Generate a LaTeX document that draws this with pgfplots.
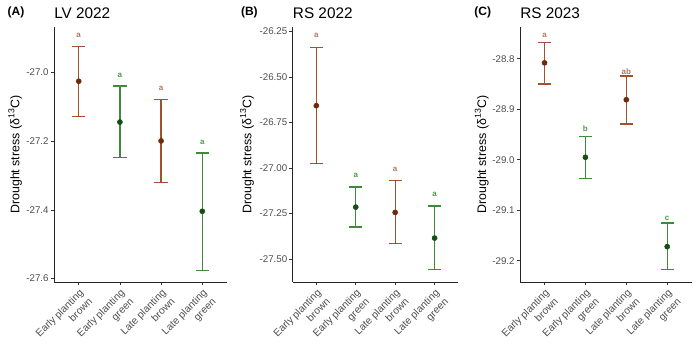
\documentclass[border=0pt]{standalone}
\usepackage{pgfplots}
\pgfplotsset{compat=1.18}
\usepackage{pgfplotstable}
\usepackage{fontspec}
\setmainfont{Liberation Sans}

\definecolor{bbar}{HTML}{A0522D}
\definecolor{bdot}{HTML}{6E2A0C}
\definecolor{gbar}{HTML}{3F8A3A}
\definecolor{gdot}{HTML}{124F12}
\definecolor{bletter}{HTML}{B07860}
\definecolor{gletter}{HTML}{4E9A48}
\definecolor{tickgray}{HTML}{4D4D4D}

% panel A
\pgfplotstableread{
x y ep em
1 -27.025 0.100 0.102
3 -27.199 0.121 0.121
}\Abrown
\pgfplotstableread{
x y ep em
2 -27.144 0.105 0.104
4 -27.404 0.170 0.172
}\Agreen
% panel B
\pgfplotstableread{
x y ep em
1 -26.658 0.320 0.319
3 -27.244 0.174 0.172
}\Bbrown
\pgfplotstableread{
x y ep em
2 -27.215 0.110 0.109
4 -27.385 0.176 0.173
}\Bgreen
% panel C
\pgfplotstableread{
x y ep em
1 -28.808 0.040 0.042
3 -28.881 0.047 0.048
}\Cbrown
\pgfplotstableread{
x y ep em
2 -28.995 0.041 0.042
4 -29.172 0.047 0.046
}\Cgreen

\tikzset{
  lb/.style={font=\fontsize{6}{6}\selectfont\bfseries, text=bletter, inner sep=0pt},
  lg/.style={font=\fontsize{6}{6}\selectfont\bfseries, text=gletter, inner sep=0pt},
}

\pgfplotsset{
  panel/.style={
    scale only axis,
    height=191.25pt,
    axis x line*=bottom,
    axis y line*=left,
    axis line style={line width=0.7pt, black!85},
    tick align=outside,
    major tick length=2.4pt,
    tick style={line width=0.6pt, black!80},
    xmin=0.4, xmax=4.6,
    xtick={1,2,3,4},
    xticklabels={{Early planting\\brown},{Early planting\\green},{Late planting\\brown},{Late planting\\green}},
    x tick label style={rotate=45, anchor=north east, align=right,
      font=\fontsize{7.7}{9.5}\selectfont, text=tickgray, inner sep=1.5pt},
    y tick label style={font=\fontsize{7.3}{8.6}\selectfont, text=tickgray, inner sep=1.5pt},
    /pgf/number format/assume math mode=true,
    ylabel={Drought stress (δ\textsuperscript{13}C)},
    ylabel style={font=\fontsize{9.3}{11}\selectfont, anchor=center},
    clip=false,
  },
  bro/.style={color=bbar, only marks, mark=*, mark size=1.9pt,
    mark options={fill=bdot, draw=bdot},
    error bars/.cd, y dir=both, y explicit,
    error bar style={color=bbar, line width=0.9pt},
    error mark options={color=bbar, mark size=5pt, line width=0.9pt, rotate=90}},
  gre/.style={color=gbar, only marks, mark=*, mark size=1.9pt,
    mark options={fill=gdot, draw=gdot},
    error bars/.cd, y dir=both, y explicit,
    error bar style={color=gbar, line width=0.9pt},
    error mark options={color=gbar, mark size=5pt, line width=0.9pt, rotate=90}},
}

\begin{document}
\begin{tikzpicture}
\useasboundingbox (0,0) rectangle (525pt,272.25pt);

% ---------- Panel A ----------
\begin{axis}[panel, at={(40.5pt,60.75pt)}, anchor=south west,
  width=129.75pt,
  ymin=-27.61, ymax=-26.867,
  ytick={-27.6,-27.4,-27.2,-27.0},
  yticklabel style={/pgf/number format/.cd, fixed, fixed zerofill, precision=1},
  ylabel style={at={(axis description cs:-0.225,0.5)}},
]
\addplot[bro] table[x=x, y=y, y error plus=ep, y error minus=em] {\Abrown};
\addplot[gre] table[x=x, y=y, y error plus=ep, y error minus=em] {\Agreen};
\node[lb] at (axis cs:1,-26.891) {a};
\node[lg] at (axis cs:2,-27.008) {a};
\node[lb] at (axis cs:3,-27.047) {a};
\node[lg] at (axis cs:4,-27.202) {a};
\end{axis}

% ---------- Panel B ----------
\begin{axis}[panel, at={(219.5pt,60.75pt)}, anchor=south west,
  width=124.2pt,
  ymin=-27.626, ymax=-26.226,
  ytick={-27.5,-27.25,-27.0,-26.75,-26.5,-26.25},
  yticklabel style={/pgf/number format/.cd, fixed, fixed zerofill, precision=2},
  ylabel style={at={(axis description cs:-0.276,0.5)}},
]
\addplot[bro] table[x=x, y=y, y error plus=ep, y error minus=em] {\Bbrown};
\addplot[gre] table[x=x, y=y, y error plus=ep, y error minus=em] {\Bgreen};
\node[lb] at (axis cs:1,-26.272) {a};
\node[lg] at (axis cs:2,-27.041) {a};
\node[lb] at (axis cs:3,-27.008) {a};
\node[lg] at (axis cs:4,-27.145) {a};
\end{axis}

% ---------- Panel C ----------
\begin{axis}[panel, at={(390pt,60.75pt)}, anchor=south west,
  width=128.8pt,
  ymin=-29.242, ymax=-28.737,
  ytick={-29.2,-29.1,-29.0,-28.9,-28.8},
  yticklabel style={/pgf/number format/.cd, fixed, fixed zerofill, precision=1},
  ylabel style={at={(axis description cs:-0.223,0.5)}},
]
\addplot[bro] table[x=x, y=y, y error plus=ep, y error minus=em] {\Cbrown};
\addplot[gre] table[x=x, y=y, y error plus=ep, y error minus=em] {\Cgreen};
\node[lb] at (axis cs:1,-28.753) {a};
\node[lg] at (axis cs:2,-28.939) {b};
\node[lb] at (axis cs:3,-28.826) {ab};
\node[lg] at (axis cs:4,-29.117) {c};
\end{axis}

% ---------- titles ----------
\node[font=\fontsize{9}{10}\selectfont\bfseries, inner sep=0pt] at (12pt,262.8pt) {(A)};
\node[font=\fontsize{11.5}{13}\selectfont, anchor=west, inner sep=0pt] at (40.5pt,262.5pt) {LV 2022};
\node[font=\fontsize{9}{10}\selectfont\bfseries, inner sep=0pt] at (187pt,262.8pt) {(B)};
\node[font=\fontsize{11.5}{13}\selectfont, anchor=west, inner sep=0pt] at (219.5pt,262.5pt) {RS 2022};
\node[font=\fontsize{9}{10}\selectfont\bfseries, inner sep=0pt] at (362pt,262.8pt) {(C)};
\node[font=\fontsize{11.5}{13}\selectfont, anchor=west, inner sep=0pt] at (390pt,262.5pt) {RS 2023};
\end{tikzpicture}
\end{document}
